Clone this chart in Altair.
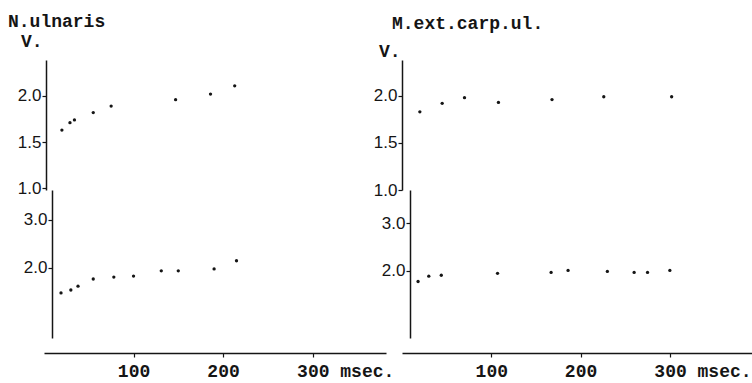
import altair as alt
import pandas as pd

# ---- data ----
nu_top_ms = [20, 29, 34, 55, 75, 147, 186, 213]
nu_top_v = [1.63, 1.71, 1.74, 1.82, 1.89, 1.96, 2.02, 2.11]
nu_bot_ms = [19, 30, 38, 55, 78, 100, 131, 150, 190, 215]
nu_bot_v = [1.48, 1.54, 1.62, 1.77, 1.81, 1.83, 1.94, 1.94, 1.98, 2.15]

me_top_ms = [20, 45, 70, 108, 168, 226, 302]
me_top_v = [1.83, 1.92, 1.98, 1.93, 1.96, 1.99, 1.99]
me_bot_ms = [18, 30, 44, 107, 167, 186, 230, 260, 275, 300]
me_bot_v = [1.78, 1.89, 1.91, 1.95, 1.97, 2.01, 1.99, 1.97, 1.97, 2.01]

titles = ["N.ulnaris", "M.ext.carp.ul."]
x_ticks = [100, 200, 300]
top_ticks = [1.0, 1.5, 2.0]
bot_ticks = [2.0, 3.0]

INK = "#151515"
MONO = "Liberation Mono"
NUM = "Liberation Sans"

yaxis_common = dict(title=None, grid=False, format=".1f", domainColor=INK,
                    domainWidth=1.5, tickColor=INK, tickSize=4, tickWidth=1.2,
                    labelFont=NUM, labelFontSize=17, labelColor=INK,
                    labelPadding=1)


def top_chart(title, ms, v, xmax, width, dom, off, title_dx, title_dy, v_dy):
    xs = alt.Scale(domain=[0, xmax], nice=False, zero=False)
    df = pd.DataFrame({"ms": ms, "v": v})
    pts = alt.Chart(df).mark_circle(size=11, color=INK, opacity=1).encode(
        x=alt.X("ms:Q", scale=xs, axis=None),
        y=alt.Y("v:Q", scale=alt.Scale(domain=dom, nice=False, zero=False),
                axis=alt.Axis(values=top_ticks, offset=off, **yaxis_common)),
    )
    lab_df = pd.DataFrame({"t": [title], "u": ["V."]})
    title_txt = alt.Chart(lab_df).mark_text(
        font=MONO, fontSize=18, fontWeight="bold", color=INK, align="left",
        baseline="top").encode(x=alt.value(title_dx), y=alt.value(title_dy), text="t:N")
    v_txt = alt.Chart(lab_df).mark_text(
        font=MONO, fontSize=18, fontWeight="bold", color=INK, align="left",
        baseline="top").encode(x=alt.value(-23), y=alt.value(v_dy), text="u:N")
    return alt.layer(pts, title_txt, v_txt).properties(width=width, height=130)


def bot_chart(ms, v, xmax, width, dom, off):
    xs = alt.Scale(domain=[0, xmax], nice=False, zero=False)
    df = pd.DataFrame({"ms": ms, "v": v})
    return alt.Chart(df).mark_circle(size=11, color=INK, opacity=1).encode(
        x=alt.X("ms:Q", scale=xs,
                axis=alt.Axis(values=x_ticks, title=None, grid=False, offset=15,
                              domainColor=INK, domainWidth=1.5, tickColor=INK,
                              tickSize=4, tickWidth=1.2, labelFont=MONO,
                              labelFontSize=18, labelFontWeight="bold",
                              labelColor=INK, labelPadding=5, labelFlush=False,
                              labelOverlap=False,
                              labelAlign={"condition": {"test": "datum.value == 300", "value": "left"},
                                          "value": "center"},
                              labelOffset={"condition": {"test": "datum.value == 300", "value": -16},
                                           "value": 0},
                              labelExpr="datum.value == 300 ? '300 msec.' : datum.label")),
        y=alt.Y("v:Q", scale=alt.Scale(domain=dom, nice=False, zero=False),
                axis=alt.Axis(values=bot_ticks, offset=off, **yaxis_common)),
    ).properties(width=width, height=148)


tl = top_chart(titles[0], nu_top_ms, nu_top_v, 382, 342, [0.98, 2.39], -2, -36, -47, -27)
tr = top_chart(titles[1], me_top_ms, me_top_v, 392, 350, [1.0, 2.38], 0, -10, -45, -17)
bl = bot_chart(nu_bot_ms, nu_bot_v, 382, 342, [0.54, 3.625], -8)
br = bot_chart(me_bot_ms, me_bot_v, 392, 350, [0.60, 3.69], -8)

chart = alt.concat(tl, tr, bl, br, columns=2, spacing={"row": 0, "column": 16},
                   bounds="flush").properties(
    background="white",
    padding={"left": 8, "top": 13, "right": 0, "bottom": 4},
).configure_view(stroke=None)

chart.save("out.html", embed_options={"renderer": "svg", "actions": False})
